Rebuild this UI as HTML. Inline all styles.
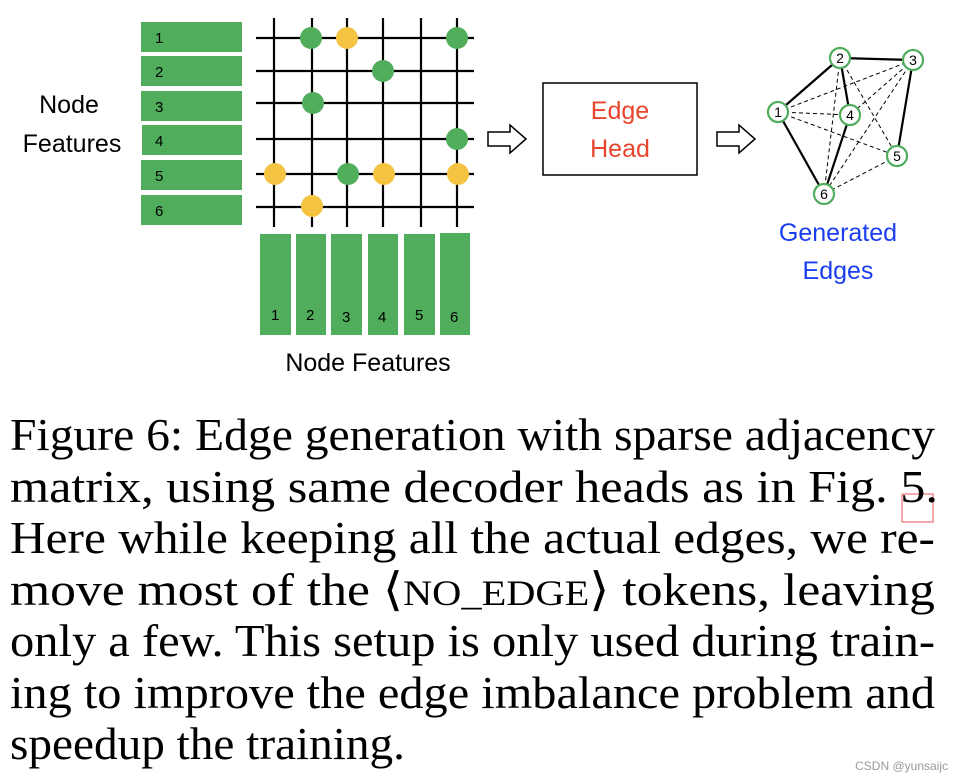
<!DOCTYPE html>
<html><head><meta charset="utf-8"><style>
html,body{margin:0;padding:0;background:#fff;}
svg{display:block;}
</style></head><body>
<svg width="956" height="784" viewBox="0 0 956 784" xmlns="http://www.w3.org/2000/svg">
<g font-family="Liberation Sans, sans-serif" font-size="25" fill="#000">
<text x="69" y="113" text-anchor="middle">Node</text>
<text x="72" y="152" text-anchor="middle">Features</text>
<text x="368" y="371" text-anchor="middle">Node Features</text>
</g>
<g fill="#4fad5b">
<rect x="141" y="22" width="101" height="30"/>
<rect x="141" y="56" width="101" height="30"/>
<rect x="141" y="91" width="101" height="30"/>
<rect x="142" y="125" width="100" height="30"/>
<rect x="141" y="160" width="101" height="30"/>
<rect x="141" y="195" width="101" height="30"/>
<rect x="260" y="234" width="31" height="101"/>
<rect x="296" y="234" width="30" height="101"/>
<rect x="331" y="234" width="31" height="101"/>
<rect x="368" y="234" width="30" height="101"/>
<rect x="404" y="234" width="31" height="101"/>
<rect x="440" y="233" width="30" height="102"/>
</g>
<g font-family="Liberation Sans, sans-serif" font-size="15" fill="#000">
<text x="155" y="43">1</text><text x="155" y="77">2</text><text x="155" y="112">3</text>
<text x="155" y="146">4</text><text x="155" y="181">5</text><text x="155" y="216">6</text>
<text x="271" y="320">1</text><text x="306" y="320">2</text><text x="342" y="322">3</text>
<text x="378" y="322">4</text><text x="415" y="320">5</text><text x="450" y="322">6</text>
</g>
<g stroke="#000" stroke-width="2.2">
<line x1="256" y1="38" x2="474" y2="38"/><line x1="256" y1="71" x2="474" y2="71"/>
<line x1="256" y1="103" x2="474" y2="103"/><line x1="256" y1="139" x2="474" y2="139"/>
<line x1="256" y1="174" x2="474" y2="174"/><line x1="256" y1="207" x2="474" y2="207"/>
<line x1="274" y1="18" x2="274" y2="227"/><line x1="312" y1="18" x2="312" y2="227"/>
<line x1="347" y1="18" x2="347" y2="227"/><line x1="383" y1="18" x2="383" y2="227"/>
<line x1="421" y1="18" x2="421" y2="227"/><line x1="457" y1="18" x2="457" y2="227"/>
</g>
<g fill="#4fad5b">
<circle cx="311" cy="38" r="11"/><circle cx="457" cy="38" r="11"/>
<circle cx="383" cy="71" r="11"/><circle cx="313" cy="103" r="11"/>
<circle cx="457" cy="139" r="11"/><circle cx="348" cy="174" r="11"/>
</g>
<g fill="#f5c342">
<circle cx="347" cy="38" r="11"/><circle cx="275" cy="174" r="11"/>
<circle cx="384" cy="174" r="11"/><circle cx="458" cy="174" r="11"/>
<circle cx="312" cy="206" r="11"/>
</g>
<g fill="#fff" stroke="#000" stroke-width="1.5">
<polygon points="488,132 510,132 510,125 526,139 510,153 510,146 488,146"/>
<polygon points="717,132 739,132 739,125 755,139 739,153 739,146 717,146"/>
</g>
<rect x="543" y="83" width="154" height="92" fill="#fff" stroke="#000" stroke-width="1.5"/>
<g font-family="Liberation Sans, sans-serif" font-size="25" fill="#e8452c" text-anchor="middle">
<text x="620" y="119">Edge</text><text x="620" y="157">Head</text>
</g>
<g font-family="Liberation Sans, sans-serif" font-size="25" fill="#1a3ef0" text-anchor="middle">
<text x="838" y="241">Generated</text><text x="838" y="279">Edges</text>
</g>
<g stroke="#000" stroke-width="1" stroke-dasharray="4,3">
<line x1="778" y1="112" x2="913" y2="60"/><line x1="778" y1="112" x2="850" y2="115"/>
<line x1="778" y1="112" x2="897" y2="156"/><line x1="840" y1="58" x2="824" y2="194"/>
<line x1="840" y1="58" x2="897" y2="156"/><line x1="913" y1="60" x2="850" y2="115"/>
<line x1="913" y1="60" x2="824" y2="194"/><line x1="897" y1="156" x2="824" y2="194"/>
</g>
<g stroke="#000" stroke-width="2.2">
<line x1="778" y1="112" x2="840" y2="58"/><line x1="840" y1="58" x2="913" y2="60"/>
<line x1="840" y1="58" x2="850" y2="115"/><line x1="913" y1="60" x2="897" y2="156"/>
<line x1="778" y1="112" x2="824" y2="194"/><line x1="850" y1="115" x2="824" y2="194"/>
</g>
<g fill="#fff" stroke="#4fad5b" stroke-width="2.2">
<circle cx="778" cy="112" r="10"/><circle cx="840" cy="58" r="10"/><circle cx="913" cy="60" r="10"/>
<circle cx="850" cy="115" r="10"/><circle cx="897" cy="156" r="10"/><circle cx="824" cy="194" r="10"/>
</g>
<g font-family="Liberation Sans, sans-serif" font-size="14" fill="#000" text-anchor="middle">
<text x="778" y="117">1</text><text x="840" y="63">2</text><text x="913" y="65">3</text>
<text x="850" y="120">4</text><text x="897" y="161">5</text><text x="824" y="199">6</text>
</g>
<rect x="902" y="494" width="31" height="28" fill="none" stroke="#e55" stroke-width="1"/>
<g font-family="Liberation Serif, serif" font-size="46" fill="#000">
<text x="10" y="450" textLength="925" lengthAdjust="spacingAndGlyphs">Figure 6: Edge generation with sparse adjacency</text>
<text x="10" y="502" textLength="928" lengthAdjust="spacingAndGlyphs">matrix, using same decoder heads as in Fig. 5.</text>
<text x="10" y="553" textLength="925" lengthAdjust="spacingAndGlyphs">Here while keeping all the actual edges, we re-</text>
<text x="10" y="605" textLength="925" lengthAdjust="spacingAndGlyphs">move most of the ⟨<tspan font-size="36">NO_EDGE</tspan>⟩ tokens, leaving</text>
<text x="10" y="656" textLength="925" lengthAdjust="spacingAndGlyphs">only a few. This setup is only used during train-</text>
<text x="10" y="708" textLength="925" lengthAdjust="spacingAndGlyphs">ing to improve the edge imbalance problem and</text>
<text x="10" y="759" textLength="395" lengthAdjust="spacingAndGlyphs">speedup the training.</text>
</g>
<text x="948" y="770" text-anchor="end" font-family="Liberation Sans, sans-serif" font-size="12" fill="#999">CSDN @yunsaijc</text>
</svg>
</body></html>
